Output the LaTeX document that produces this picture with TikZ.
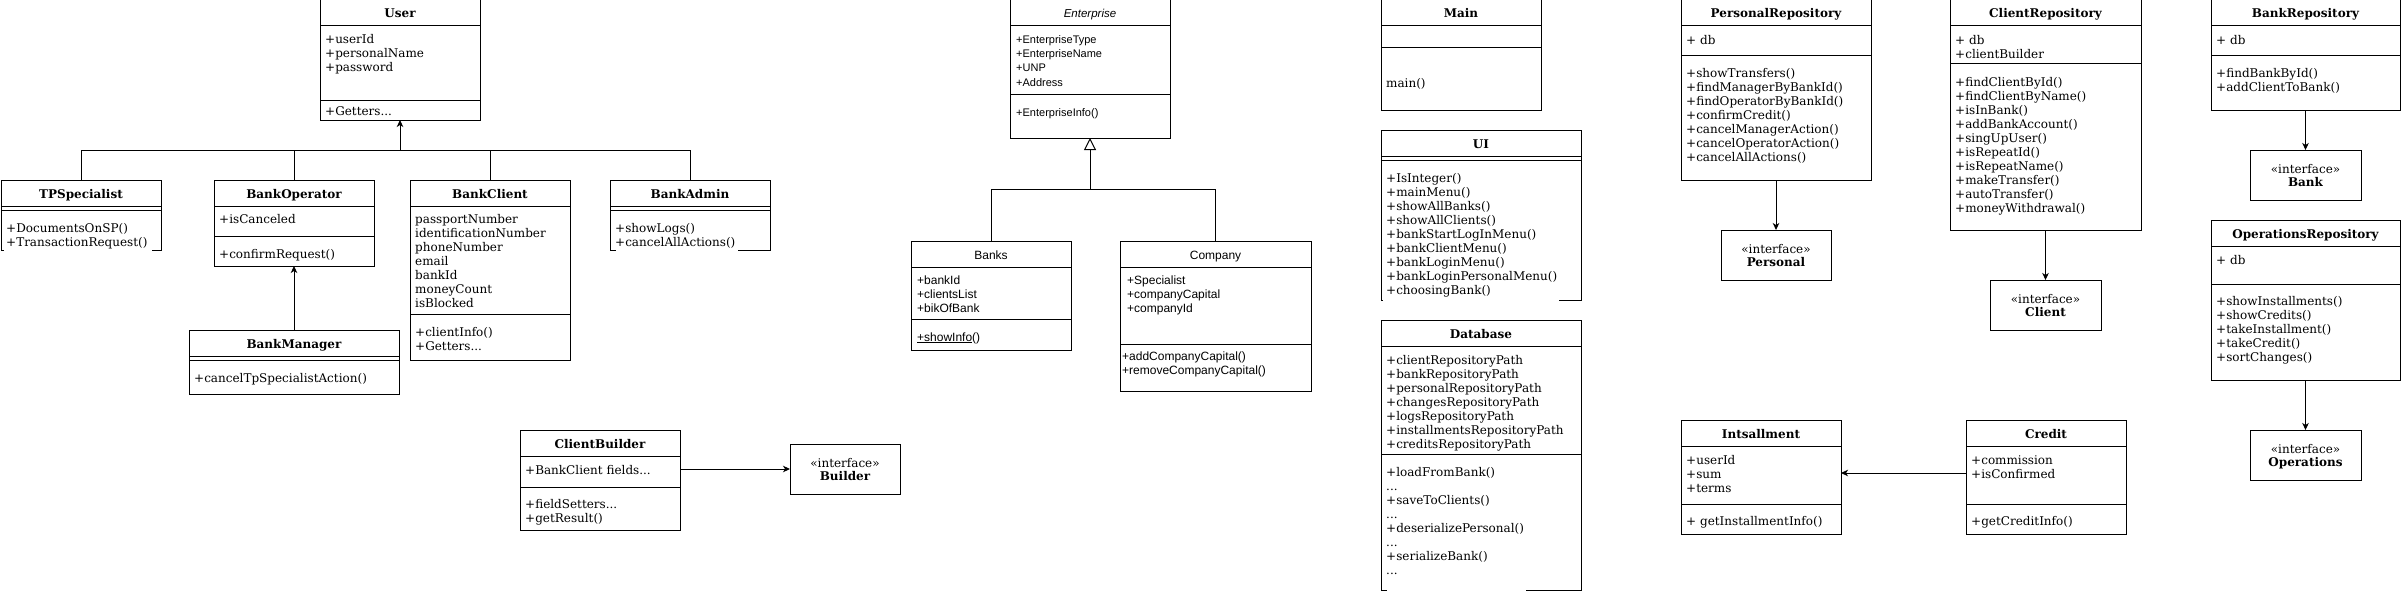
\documentclass[tikz,border=0pt]{standalone}
\usepackage{fontspec}
\setmainfont{DejaVu Serif}
\newfontfamily\sansf{Liberation Sans}
\usetikzlibrary{arrows.meta}
\newcommand\ddd{.\kern0pt.\kern0pt.}
\tikzset{
  ln/.style={line width=1pt},
  box/.style={draw, line width=1pt, inner sep=0pt, outer sep=0pt, anchor=north west, fill=white},
  hdr/.style={font=\bfseries\fontsize{12}{14}\selectfont, inner sep=0pt, anchor=base},
  hdrsans/.style={font=\sansf\fontsize{12}{14}\selectfont, inner sep=0pt, anchor=base},
  hdrital/.style={font=\sansf\itshape\fontsize{11.5}{14}\selectfont, inner sep=0pt, anchor=base},
  srf/.style={font=\fontsize{12}{14}\selectfont, inner sep=0pt},
  sns/.style={font=\sansf\fontsize{12}{14}\selectfont, inner sep=0pt},
  snsl/.style={font=\sansf\fontsize{11}{14}\selectfont, inner sep=0pt},
  arr/.style={line width=1pt, -{Stealth[length=7pt,width=6.5pt,inset=2pt]}},
  gen/.style={line width=1pt, -{Triangle[open,length=12pt,width=12pt,fill=white]}},
}
% name, x, y, w, h, title style, title
\newcommand\umlbox[7]{%
  \node[box, minimum width=#4pt, minimum height=#5pt] (#1) at (#2,#3) {};
  \node[#6] (#1-t) at (#2+#4/2, #3+18) {#7};
  \draw[ln] (#2, #3+26) -- (#2+#4, #3+26);
}
% prefix, x, first baseline, style, rows
\newcommand\umlrows[5]{%
  \foreach \t [count=\i] in {#5} {\node[#4, anchor=base west] (#1-\i) at (#2, #3+14*\i-14) {\t};}
}
% name, x, y, w, h, label
\newcommand\umliface[6]{%
  \node[box, minimum width=#4pt, minimum height=#5pt] (#1) at (#2,#3) {};
  \node[srf, anchor=base] (#1-s) at (#2+#4/2, #3+23.5) {«interface»};
  \node[hdr] (#1-t) at (#2+#4/2, #3+36.5) {#6};
}
\begin{document}
\begin{tikzpicture}[x=1pt, y=-1pt]
\fill[white] (0,0) rectangle (2401,594);
\useasboundingbox (0,0) rectangle (2401,594);

% ---------- User hierarchy ----------
\umlbox{user}{320}{0}{160}{120}{hdr}{User}
\draw[ln] (320,100) -- (480,100);
\umlrows{user-a}{325}{43.5}{srf}{+userId,+personalName,+password}
\umlrows{user-m}{325}{115.5}{srf}{+Getters\ddd}

\umlbox{tps}{1}{180}{160}{70}{hdr}{TPSpecialist}
\draw[ln] (1,210) -- (161,210);
\fill[white] (4,248) rectangle (152,253);
\umlrows{tps-m}{6}{232}{srf}{+DocumentsOnSP(),+TransactionRequest()}

\umlbox{bop}{214}{180}{160}{86}{hdr}{BankOperator}
\draw[ln] (214,236) -- (374,236);
\umlrows{bop-a}{219}{223.5}{srf}{+isCanceled}
\umlrows{bop-m}{219}{258.5}{srf}{+confirmRequest()}

\umlbox{bcl}{410}{180}{160}{180}{hdr}{BankClient}
\draw[ln] (410,314) -- (570,314);
\umlrows{bcl-a}{415}{223.5}{srf}{passportNumber,identificationNumber,phoneNumber,email,bankId,moneyCount,isBlocked}
\umlrows{bcl-m}{415}{336.5}{srf}{+clientInfo(),+Getters\ddd}

\umlbox{badm}{610}{180}{160}{70}{hdr}{BankAdmin}
\draw[ln] (610,210) -- (770,210);
\fill[white] (616,248) rectangle (738,253);
\umlrows{badm-m}{615}{232}{srf}{+showLogs(),+cancelAllActions()}

\umlbox{bman}{189}{330}{210}{64}{hdr}{BankManager}
\draw[ln] (189,360) -- (399,360);
\umlrows{bman-m}{194}{382.5}{srf}{+cancelTpSpecialistAction()}

\coordinate (uj) at (400,150);
\draw[ln] (tps.north) |- (uj);
\draw[ln] (bop.north) |- (uj);
\draw[ln] (bcl.north) |- (uj);
\draw[ln] (badm.north) |- (uj);
\draw[arr] (uj) -- (user.south);
\draw[arr] (bman.north) -- (bop.south);

% ---------- Builder ----------
\umlbox{cb}{520}{430}{160}{100}{hdr}{ClientBuilder}
\draw[ln] (520,487) -- (680,487);
\umlrows{cb-a}{525}{474.5}{srf}{+BankClient fields\ddd}
\umlrows{cb-m}{525}{508.5}{srf}{+fieldSetters\ddd,+getResult()}
\umliface{bld}{790}{444}{110}{50}{Builder}
\draw[arr] (cb.east |- bld.west) -- (bld.west);

% ---------- Enterprise ----------
\umlbox{ent}{1010}{0}{160}{138}{hdrital}{Enterprise}
\draw[ln] (1010,94) -- (1170,94);
\umlrows{ent-a}{1016}{44}{snsl}{+EnterpriseType,+EnterpriseName,+UNP,+Address}
\umlrows{ent-m}{1016}{116}{snsl}{+EnterpriseInfo()}

\umlbox{banks}{911}{241}{160}{109}{hdrsans}{Banks}
\draw[ln] (911,319) -- (1071,319);
\umlrows{banks-a}{917}{284}{sns}{+bankId,+clientsList,+bikOfBank}
\umlrows{banks-m}{917}{341}{sns}{\underline{+showInfo}()}

\umlbox{comp}{1120}{241}{191}{150}{hdrsans}{Company}
\draw[ln] (1120,344) -- (1311,344);
\umlrows{comp-a}{1127}{284}{sns}{+Specialist,+companyCapital,+companyId}
\umlrows{comp-m}{1122}{360}{sns}{+addCompanyCapital(),+removeCompanyCapital()}

\coordinate (ej) at (1090,189);
\draw[ln] (banks.north) |- (ej);
\draw[ln] (comp.north) |- (ej);
\draw[gen] (ej) -- (ent.south);

% ---------- Main / UI / Database ----------
\umlbox{main}{1381}{0}{160}{110}{hdr}{Main}
\draw[ln] (1381,48) -- (1541,48);
\umlrows{main-m}{1386}{87.5}{srf}{main()}

\umlbox{ui}{1381}{130}{200}{170}{hdr}{UI}
\draw[ln] (1381,160) -- (1581,160);
\fill[white] (1383,298) rectangle (1559,303);
\umlrows{ui-m}{1386}{182.5}{srf}{+IsInteger(),+mainMenu(),+showAllBanks(),+showAllClients(),+bankStartLogInMenu(),+bankClientMenu(),+bankLoginMenu(),+bankLoginPersonalMenu(),+choosingBank()}

\umlbox{db}{1381}{320}{200}{270}{hdr}{Database}
\draw[ln] (1381,454) -- (1581,454);
\fill[white] (1387,588) rectangle (1526,593);
\umlrows{db-a}{1386}{364.5}{srf}{+clientRepositoryPath,+bankRepositoryPath,+personalRepositoryPath,+changesRepositoryPath,+logsRepositoryPath,+installmentsRepositoryPath,+creditsRepositoryPath}
\umlrows{db-m}{1386}{476.5}{srf}{+loadFromBank(),\ddd,+saveToClients(),\ddd,+deserializePersonal(),\ddd,+serializeBank(),\ddd}

% ---------- Repositories ----------
\umlbox{pr}{1681}{0}{190}{180}{hdr}{PersonalRepository}
\draw[ln] (1681,56) -- (1871,56);
\umlrows{pr-a}{1686}{44.5}{srf}{+ db}
\umlrows{pr-m}{1686}{77.5}{srf}{+showTransfers(),+findManagerByBankId(),+findOperatorByBankId(),+confirmCredit(),+cancelManagerAction(),+cancelOperatorAction(),+cancelAllActions()}
\umliface{pif}{1721}{230}{110}{50}{Personal}
\draw[arr] (pr.south) -- (pif.north);

\umlbox{cr}{1950}{0}{191}{230}{hdr}{ClientRepository}
\draw[ln] (1950,64) -- (2141,64);
\umlrows{cr-a}{1955}{44.5}{srf}{+ db,+clientBuilder}
\umlrows{cr-m}{1955}{86.5}{srf}{+findClientById(),+findClientByName(),+isInBank(),+addBankAccount(),+singUpUser(),+isRepeatId(),+isRepeatName(),+makeTransfer(),+autoTransfer(),+moneyWithdrawal()}
\umliface{cif}{1990}{280}{111}{50}{Client}
\draw[arr] (cr.south) -- (cif.north);

\umlbox{br}{2211}{0}{189}{110}{hdr}{BankRepository}
\draw[ln] (2211,56) -- (2400,56);
\umlrows{br-a}{2216}{44.5}{srf}{+ db}
\umlrows{br-m}{2216}{77.5}{srf}{+findBankById(),+addClientToBank()}
\umliface{bif}{2250}{150}{111}{50}{Bank}
\draw[arr] (br.south) -- (bif.north);

\umlbox{opr}{2211}{220}{189}{160}{hdr}{OperationsRepository}
\draw[ln] (2211,284) -- (2400,284);
\umlrows{opr-a}{2216}{264.5}{srf}{+ db}
\umlrows{opr-m}{2216}{305.5}{srf}{+showInstallments(),+showCredits(),+takeInstallment(),+takeCredit(),+sortChanges()}
\umliface{oif}{2250}{430}{111}{50}{Operations}
\draw[arr] (opr.south) -- (oif.north);

% ---------- Installment / Credit ----------
\umlbox{inst}{1681}{420}{160}{114}{hdr}{Intsallment}
\draw[ln] (1681,504) -- (1841,504);
\umlrows{inst-a}{1686}{464.5}{srf}{+userId,+sum,+terms}
\umlrows{inst-m}{1686}{525.5}{srf}{+ getInstallmentInfo()}

\umlbox{cred}{1966}{420}{160}{114}{hdr}{Credit}
\draw[ln] (1966,504) -- (2126,504);
\umlrows{cred-a}{1971}{464.5}{srf}{+commission,+isConfirmed}
\umlrows{cred-m}{1971}{525.5}{srf}{+getCreditInfo()}
\draw[arr] ([yshift=4pt]cred.west) -- ([yshift=4pt]inst.east);
\end{tikzpicture}
\end{document}
